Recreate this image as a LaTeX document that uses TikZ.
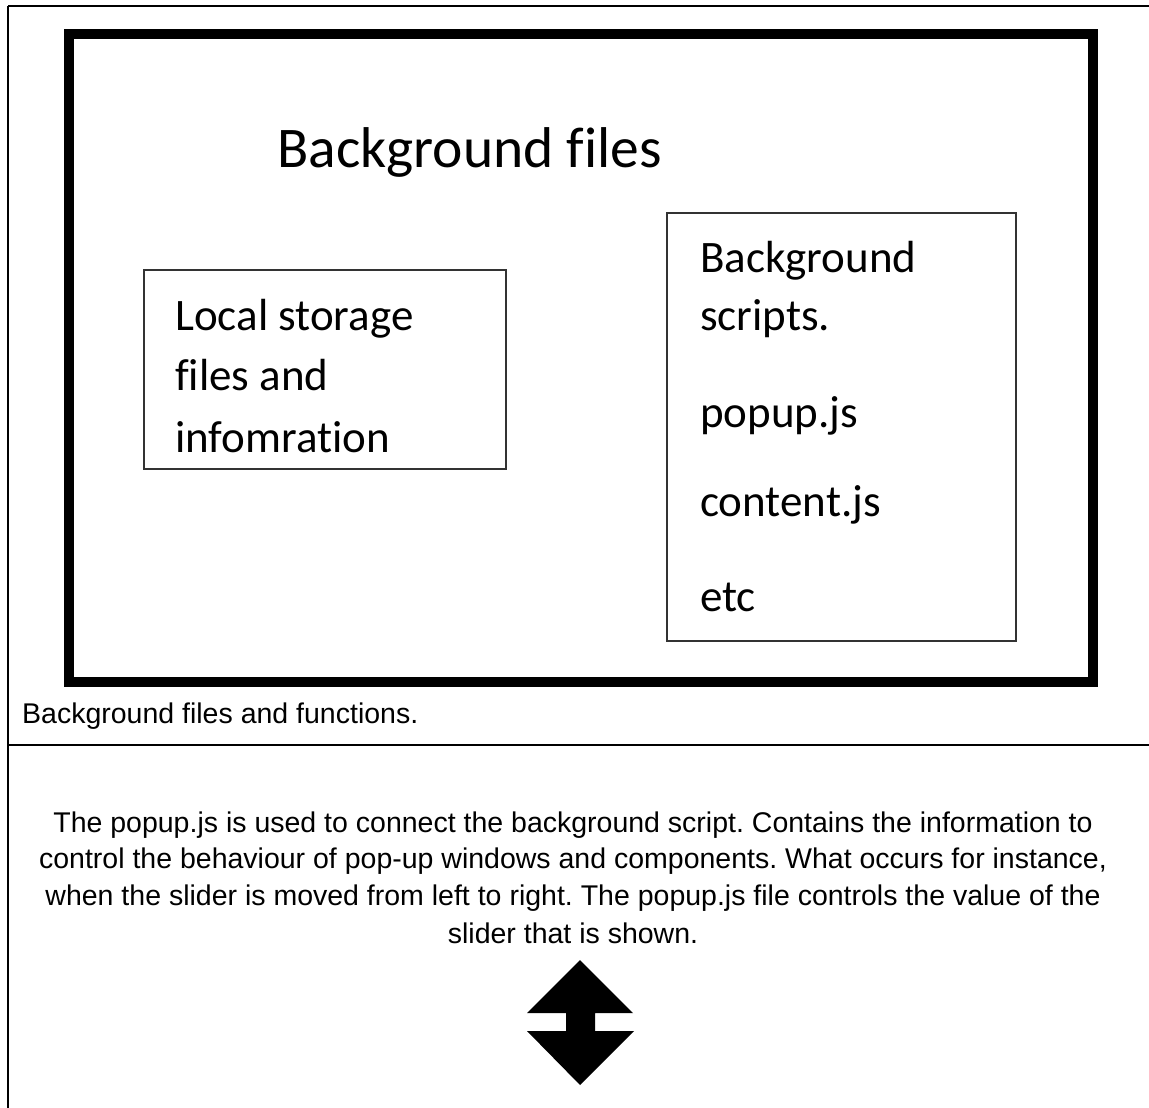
\documentclass[tikz,border=0pt]{standalone}
\usepackage{fontspec}
\setmainfont{Liberation Sans}
\newfontfamily\slidefont[Ligatures=NoCommon]{Carlito}
\frenchspacing
\begin{document}
\begin{tikzpicture}[x=1pt,y=-1pt,
  tablerule/.style={line width=2.2pt,black},
  slideframe/.style={draw=black,line width=10pt},
  panel/.style={draw=black!80,line width=1.6pt},
  slidetitle/.style={anchor=base west,inner sep=0pt,font=\slidefont\fontsize{57.5}{60}\selectfont},
  slidetext/.style={anchor=base west,inner sep=0pt,font=\slidefont\fontsize{45}{50}\selectfont},
  doctext/.style={anchor=base,inner sep=0pt,font=\fontsize{28.5}{34}\selectfont},
  captiontext/.style={anchor=base west,inner sep=0pt,font=\fontsize{28.5}{34}\selectfont}]
\useasboundingbox (0,0) rectangle (1149,1108);

% table cell borders
\draw[tablerule] (8,6) -- (1149,6);
\draw[tablerule] (8,6) -- (8,1108);
\draw[tablerule] (8,745) -- (1149,745);

% slide frame
\draw[slideframe] (69,34) rectangle (1093,682);
\node[slidetitle] (title) at (277,167) {Background files};

% local storage panel
\draw[panel] (144,270) rectangle (506,469);
\node[slidetext] (ls1) at (175,330) {Local storage};
\node[slidetext] (ls2) at (175,390) {files and};
\node[slidetext] (ls3) at (175,452) {infomration};

% background scripts panel
\draw[panel] (667,213) rectangle (1016,641);
\node[slidetext] (bs1) at (700,272) {Background};
\node[slidetext] (bs2) at (700,330) {scripts.};
\node[slidetext] (bs3) at (700,427) {popup.js};
\node[slidetext] (bs4) at (700,516) {content.js};
\node[slidetext] (bs5) at (700,611) {etc};

% caption
\node[captiontext] (cap) at (22,723) {Background files and functions.};

% description
\node[doctext] (d1) at (573,832) {The popup.js is used to connect the background script. Contains the information to};
\node[doctext] (d2) at (573,868) {control the behaviour of pop-up windows and components. What occurs for instance,};
\node[doctext] (d3) at (573,905) {when the slider is moved from left to right. The popup.js file controls the value of the};
\node[doctext] (d4) at (573,943) {slider that is shown.};

% up-down arrow
\fill[black] (580,960) -- (633,1013) -- (595,1013) -- (595,1031) -- (634,1031)
  -- (580,1085) -- (527,1031) -- (566,1031) -- (566,1013) -- (527,1013) -- cycle;
\end{tikzpicture}
\end{document}
